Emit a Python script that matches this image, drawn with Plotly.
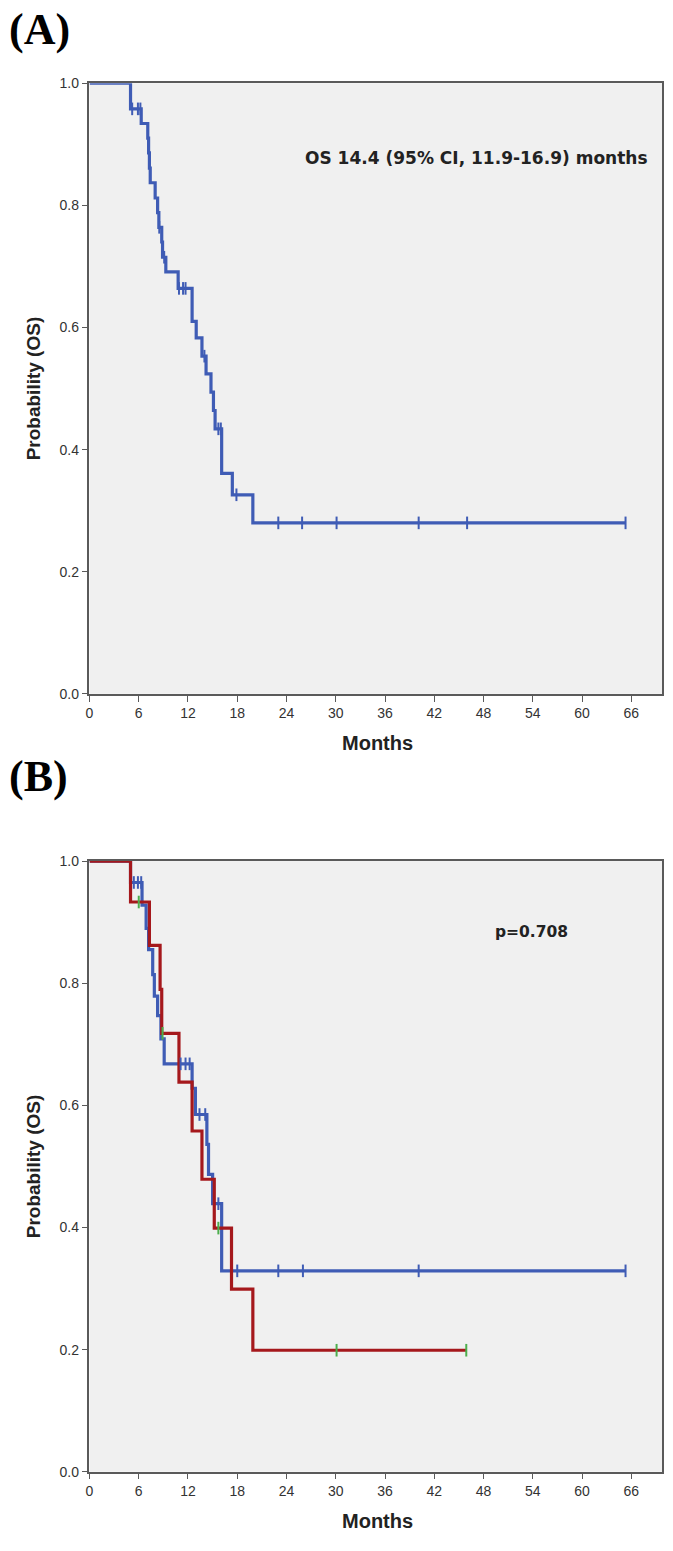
import numpy as np
import plotly.graph_objects as go

# ---------------- data ----------------
# Panel A: overall OS Kaplan-Meier curve (step times / survival levels)
a_step_t = [0, 5.0, 6.3, 7.1, 7.2, 7.3, 7.4, 8.0, 8.3, 8.45, 8.8, 8.9, 9.3, 10.8, 12.5, 13.0,
            13.7, 14.2, 14.8, 15.1, 15.3, 16.1, 17.4, 19.9, 65.3]
a_step_s = [1.0, 0.958, 0.934, 0.910, 0.886, 0.861, 0.837, 0.812, 0.788, 0.764, 0.740, 0.715,
            0.691, 0.664, 0.610, 0.583, 0.553, 0.524, 0.494, 0.464, 0.434, 0.361, 0.326, 0.280, 0.280]
a_cens_t = [5.2, 5.9, 6.2, 8.5, 9.1, 10.9, 11.4, 11.7, 14.0, 15.7, 16.0, 17.9,
            23.0, 25.9, 30.1, 40.1, 46.0, 65.3]

# Panel B: two groups
b1_step_t = [0, 5.0, 6.4, 6.9, 7.2, 7.7, 7.9, 8.3, 8.7, 9.1, 12.5, 12.9, 14.3, 14.5, 15.0, 16.1, 65.3]
b1_step_s = [1.0, 0.965, 0.928, 0.890, 0.855, 0.814, 0.779, 0.747, 0.709, 0.668, 0.628, 0.585,
             0.536, 0.487, 0.439, 0.329, 0.329]
b1_cens_t = [5.4, 5.9, 6.3, 11.1, 11.7, 12.2, 13.4, 14.1, 15.7, 18.0, 23.0, 26.0, 40.1, 65.3]

b2_step_t = [0, 5.0, 7.3, 8.6, 8.8, 10.9, 12.5, 13.7, 15.2, 17.3, 19.9, 45.9]
b2_step_s = [1.0, 0.933, 0.862, 0.790, 0.718, 0.638, 0.558, 0.479, 0.399, 0.299, 0.199, 0.199]
b2_cens_t = [6.0, 8.9, 15.7, 30.1, 45.9]

x_ticks = [0, 6, 12, 18, 24, 30, 36, 42, 48, 54, 60, 66]
y_ticks = [0.0, 0.2, 0.4, 0.6, 0.8, 1.0]
y_tick_text = ["0.0", "0.2", "0.4", "0.6", "0.8", "1.0"]

label_a = "(A)"
label_b = "(B)"
text_a = "OS 14.4 (95% CI, 11.9-16.9) months"
text_b = "p=0.708"
x_title = "Months"
y_title = "Probability (OS)"

# ---------------- styling ----------------
W, H = 673, 1551
BLUE = "#3f5cb5"
RED = "#a5181c"
GREEN = "#4cae4c"
BG = "#f0f0f0"
FRAME = "#5a5a5a"
FONT = "Arial, Liberation Sans, sans-serif"
ANN_FONT = "DejaVu Sans, Arial, sans-serif"

def surv_at(step_t, step_s, times):
    idx = np.searchsorted(np.array(step_t), np.array(times), side="right") - 1
    return [step_s[i] for i in idx]

fig = go.Figure()

def add_curve(step_t, step_s, cens_t, color, cens_color, xa, ya):
    fig.add_trace(go.Scatter(x=step_t, y=step_s, mode="lines", line_shape="hv",
                             line=dict(color=color, width=3.2), xaxis=xa, yaxis=ya,
                             showlegend=False, hoverinfo="skip"))
    return dict(x=cens_t, y=surv_at(step_t, step_s, cens_t), color=cens_color, xa=xa, ya=ya)

marks = []
marks.append(add_curve(a_step_t, a_step_s, a_cens_t, BLUE, BLUE, "x", "y"))
marks.append(add_curve(b1_step_t, b1_step_s, b1_cens_t, BLUE, BLUE, "x2", "y2"))
marks.append(add_curve(b2_step_t, b2_step_s, b2_cens_t, RED, GREEN, "x2", "y2"))
for m in marks:
    fig.add_trace(go.Scatter(x=m["x"], y=m["y"], mode="markers", xaxis=m["xa"], yaxis=m["ya"],
                             marker=dict(symbol="line-ns", size=9,
                                         line=dict(color=m["color"], width=2)),
                             cliponaxis=False, showlegend=False, hoverinfo="skip"))

# pixel layout
x0, x1 = 86, 662
a_top, a_bot = 76, 693
b_top, b_bot = 862, 1479

def py(p):
    return 1 - p / H

xdom = [x0 / W, x1 / W]

axis_common = dict(showgrid=False, zeroline=False, showline=True, linecolor=FRAME, linewidth=1.5,
                   mirror=True, ticks="outside", ticklen=6, tickwidth=1.3, tickcolor=FRAME,
                   tickfont=dict(family=FONT, size=14, color="#333333"))

xa = dict(axis_common, range=[0, 69.75], tickvals=x_ticks, domain=xdom)
ya = dict(axis_common, range=[0, 1], tickvals=y_ticks, ticktext=y_tick_text)

fig.update_layout(
    width=W, height=H, margin=dict(l=0, r=0, t=0, b=0),
    paper_bgcolor="white", plot_bgcolor=BG,
    xaxis=dict(xa, anchor="y"),
    yaxis=dict(ya, domain=[py(a_bot), py(a_top)], anchor="x"),
    xaxis2=dict(xa, anchor="y2"),
    yaxis2=dict(ya, domain=[py(b_bot), py(b_top)], anchor="x2"),
)

ann = []
ann.append(dict(text=f"<b>{label_a}</b>", x=3 / W, y=py(22), xref="paper", yref="paper",
                xanchor="left", yanchor="middle", showarrow=False,
                font=dict(family="Liberation Serif, DejaVu Serif, serif", size=44, color="black")))
ann.append(dict(text=f"<b>{label_b}</b>", x=3 / W, y=py(777), xref="paper", yref="paper",
                xanchor="left", yanchor="middle", showarrow=False,
                font=dict(family="Liberation Serif, DejaVu Serif, serif", size=44, color="black")))
for top, bot in [(a_top, a_bot), (b_top, b_bot)]:
    ann.append(dict(text=f"<b>{x_title}</b>", x=(x0 + x1) / 2 / W + 0.003, y=py(bot + 50),
                    xref="paper", yref="paper", xanchor="center", yanchor="middle",
                    showarrow=False, font=dict(family=FONT, size=20, color="#222222")))
    ann.append(dict(text=f"<b>{y_title}</b>", x=30 / W, y=py((top + bot) / 2), xref="paper",
                    yref="paper", xanchor="center", yanchor="middle", showarrow=False,
                    textangle=-90, font=dict(family=FONT, size=19, color="#222222")))
ann.append(dict(text=f"<b>{text_a}</b>", x=475 / W, y=py(152), xref="paper", yref="paper",
                xanchor="center", yanchor="middle", showarrow=False,
                font=dict(family=ANN_FONT, size=17, color="#222222")))
ann.append(dict(text=f"<b>{text_b}</b>", x=531 / W, y=py(934), xref="paper", yref="paper",
                xanchor="center", yanchor="middle", showarrow=False,
                font=dict(family=ANN_FONT, size=15.5, color="#222222")))
fig.update_layout(annotations=ann)

fig.write_html("out.html", config={"displayModeBar": False},
               post_script="document.body.style.margin='0';document.body.style.padding='0';")
